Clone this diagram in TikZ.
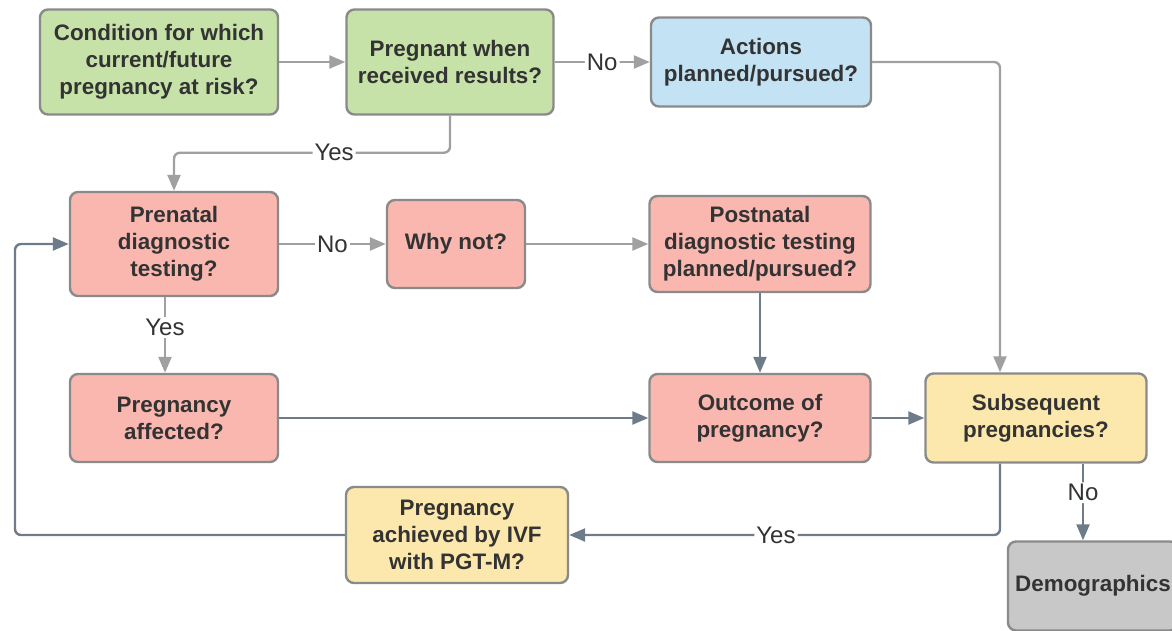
\documentclass[tikz,border=0pt]{standalone}
\usepackage{fontspec}
\setmainfont{Liberation Sans}
\usetikzlibrary{arrows.meta,calc}
\definecolor{boxgreen}{HTML}{C6E2A9}
\definecolor{boxblue}{HTML}{C3E2F4}
\definecolor{boxpink}{HTML}{F9B7AF}
\definecolor{boxyellow}{HTML}{FCE8AC}
\definecolor{boxgray}{HTML}{C8C8C8}
\definecolor{edgegray}{HTML}{8A8A8A}
\definecolor{txtgray}{HTML}{333333}
\definecolor{litegray}{HTML}{A0A0A0}
\definecolor{slate}{HTML}{6E7C8A}
\tikzset{
  box/.style={draw=edgegray, line width=1.2pt, rounded corners=4pt, align=center,
    inner sep=0pt, text=txtgray, font=\fontsize{11.2}{13.5}\selectfont\bfseries},
  lite/.style={draw=litegray, line width=1.2pt, rounded corners=3pt,
    -{Triangle[length=8pt,width=6.5pt]}},
  dark/.style={draw=slate, line width=1.2pt, rounded corners=3pt,
    -{Triangle[length=8pt,width=6.5pt]}},
  lbl/.style={fill=white, inner sep=1pt, text=txtgray,
    font=\fontsize{12}{14}\selectfont}
}
\begin{document}
\begin{tikzpicture}[x=0.5pt,y=-0.5pt]
\useasboundingbox (0,0) rectangle (1172,631);
% top row
\node[box, fill=boxgreen, minimum width=119pt, minimum height=52.5pt] (cond) at (159,62) {Condition for which\\current/future\\pregnancy at risk?};
\node[box, fill=boxgreen, minimum width=103.5pt, minimum height=52.5pt] (preg) at (450,62) {Pregnant when\\received results?};
\node[box, fill=boxblue, minimum width=110pt, minimum height=44.5pt] (act) at (761,62) {Actions\\planned/pursued?};
% middle row
\node[box, fill=boxpink, minimum width=104pt, minimum height=52pt] (pren) at (174,244) {Prenatal\\diagnostic\\testing?};
\node[box, fill=boxpink, minimum width=69pt, minimum height=44pt] (why) at (456,244) {Why not?};
\node[box, fill=boxpink, minimum width=110.5pt, minimum height=48pt] (post) at (760,244) {Postnatal\\diagnostic testing\\planned/pursued?};
% lower row
\node[box, fill=boxpink, minimum width=104pt, minimum height=44pt] (aff) at (174,418) {Pregnancy\\affected?};
\node[box, fill=boxpink, minimum width=110.5pt, minimum height=44pt] (outc) at (760,418) {Outcome of\\pregnancy?};
\node[box, fill=boxyellow, minimum width=110.5pt, minimum height=44.5pt] (subs) at (1036,418) {Subsequent\\pregnancies?};
\node[box, fill=boxyellow, minimum width=111pt, minimum height=48pt] (ivf) at (457,535) {Pregnancy\\achieved by IVF\\with PGT-M?};
\node[box, fill=boxgray, minimum width=85pt, minimum height=44.5pt] (demo) at (1093,586) {Demographics};
\coordinate (loop) at (15,535);

% connectors
\draw[lite] (cond) -- (preg);
\draw[lite] (preg) -- node[lbl]{No} (act);
\draw[lite] (preg.south) -- ++(0,37) -| node[lbl, pos=0.21]{Yes} (pren.north);
\draw[lite] (act.east) -| ($(subs.north)+(-36,0)$);
\draw[lite] (pren) -- node[lbl]{No} (why);
\draw[lite] (why) -- (post);
\draw[lite] ($(pren.south)+(-9,0)$) -- node[lbl, pos=0.4]{Yes} ($(aff.north)+(-9,0)$);
\draw[dark] (post) -- (outc);
\draw[dark] (aff) -- (outc);
\draw[dark] (outc) -- (subs);
\draw[dark] ($(subs.south)+(-36,0)$) |- node[lbl, pos=0.76]{Yes} (ivf.east);
\draw[dark] ($(subs.south)+(47,0)$) -- node[lbl, pos=0.38]{No} ($(demo.north)+(-10,0)$);
\draw[dark] (ivf.west) -- (loop) |- (pren.west);
\end{tikzpicture}
\end{document}
